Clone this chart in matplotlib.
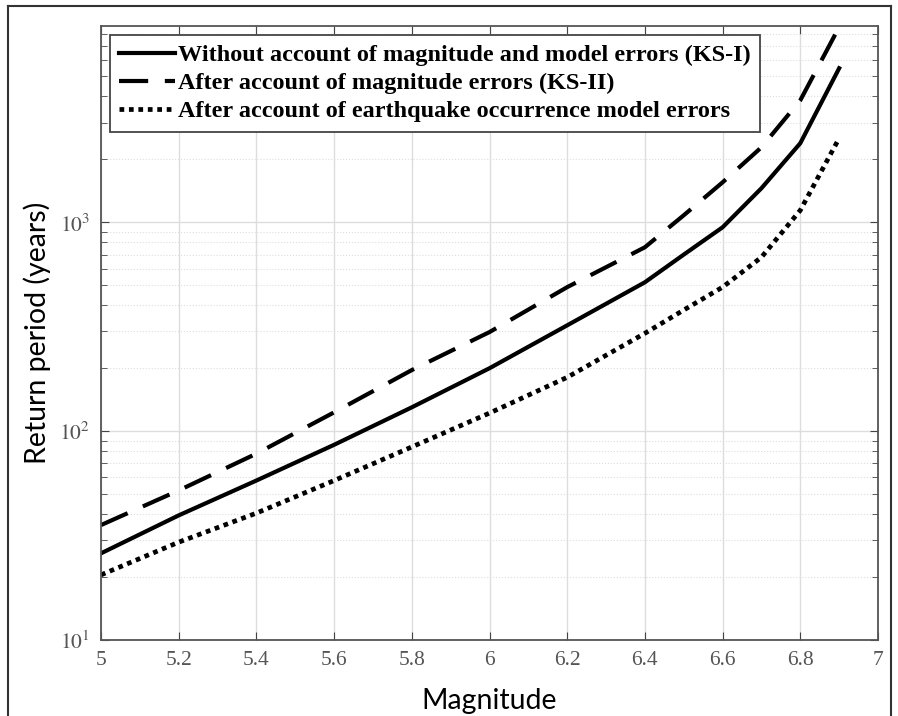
import numpy as np
import matplotlib
matplotlib.use("Agg")
import matplotlib.pyplot as plt
from matplotlib.lines import Line2D

# values
magnitude = [5.0, 5.2, 5.4, 5.6, 5.8, 6.0, 6.2, 6.4, 6.5, 6.6, 6.7, 6.8, 6.9]
ks1 = [26, 39.5, 58, 86, 130, 200, 321, 516, 700, 946, 1455, 2390, 5460]
ks2 = [35.5, 52, 78, 123, 196, 298, 489, 759, 1080, 1553, 2285, 3836, 8600]
model_err = [20.5, 29.4, 40.5, 58, 84, 122, 181, 294, 380, 489, 680, 1141, 2525]

labels = ["Without account of magnitude and model errors (KS-I)",
          "After account of magnitude errors (KS-II)",
          "After account of earthquake occurrence model errors"]
xticks = [5, 5.2, 5.4, 5.6, 5.8, 6, 6.2, 6.4, 6.6, 6.8, 7]
xticklabels = ["5", "5.2", "5.4", "5.6", "5.8", "6", "6.2", "6.4", "6.6", "6.8", "7"]

plt.rcParams['mathtext.fontset'] = 'stix'

fig = plt.figure(figsize=(8.98, 7.16), dpi=100)
ax = fig.add_axes([101/898, 1 - 640/716, (878 - 101)/898, (640 - 26)/716])

ax.plot(magnitude, ks1, color='black', lw=3.0, ls='-', label=labels[0])
ax.plot(magnitude, ks2, color='black', lw=3.0, ls=(0, (7, 4)), label=labels[1])
ax.plot(magnitude, model_err, color='black', lw=3.4, ls=(0, (1, 1.0)), label=labels[2])

ax.set_yscale('log')
ax.set_xlim(5, 7)
ax.set_ylim(10, 8700)
ax.set_xticks(xticks)
ax.set_xticklabels(xticklabels, family='Liberation Serif', fontsize=15.5, color='#555555')
ax.set_yticks([10, 100, 1000])
ax.set_yticklabels([r'$10^{1}$', r'$10^{2}$', r'$10^{3}$'], fontsize=15.5, color='#555555')

ax.tick_params(which='both', direction='in', top=True, right=True, color='#444444')
ax.tick_params(which='major', length=6, pad=8)
ax.tick_params(which='minor', length=4)
ax.tick_params(axis='x', which='minor', bottom=False, top=False)

ax.grid(True, which='major', color='#dddddd', lw=1, ls='-')
ax.grid(True, which='minor', axis='y', color='#dddddd', lw=0.8, ls=':')
for s in ax.spines.values():
    s.set_color('#555555')
    s.set_linewidth(1.3)

ax.set_xlabel('Magnitude', family='Lato', fontsize=20.5, labelpad=13)
ax.set_ylabel('Return period (years)', family='Lato', fontsize=20.5, labelpad=6)

leg = ax.legend(loc='upper left', prop={'family': 'Liberation Serif', 'weight': 'bold', 'size': 17.5},
                frameon=True, fancybox=False, edgecolor='#444444', framealpha=1,
                handlelength=2.3, handletextpad=0.1, borderpad=0.4, labelspacing=0.25,
                borderaxespad=0.35)
leg.get_frame().set_linewidth(1.3)

# outer frame of the figure
fig.add_artist(Line2D([8/898, 8/898], [0, 1 - 6/716], color='#333333', lw=1.5))
fig.add_artist(Line2D([8/898, 891/898], [1 - 6/716, 1 - 6/716], color='#333333', lw=1.5))
fig.add_artist(Line2D([891/898, 891/898], [0, 1 - 6/716], color='#333333', lw=1.5))

fig.savefig('out.png', dpi=100)
